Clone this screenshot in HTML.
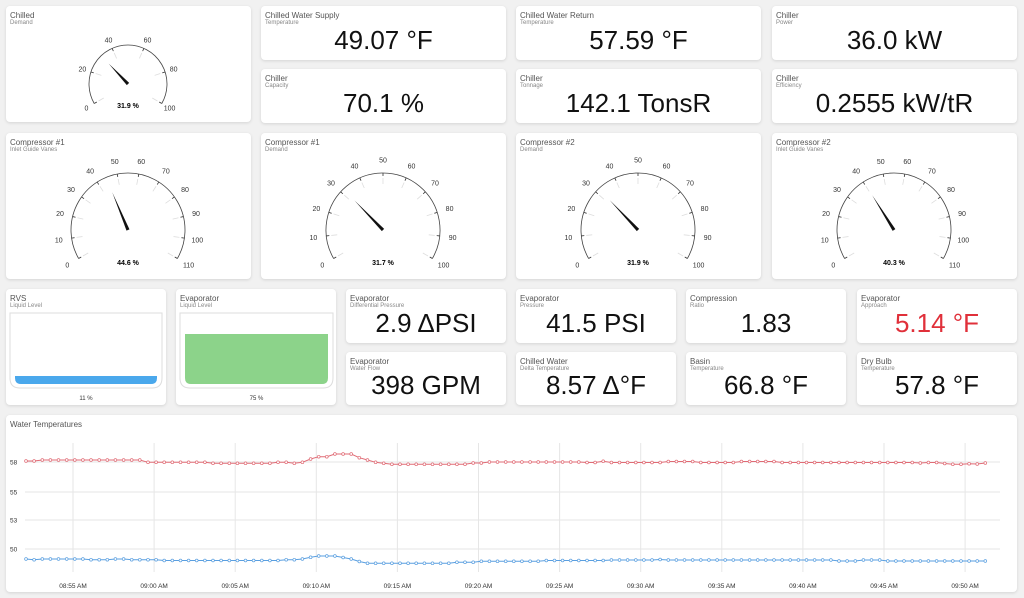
<!DOCTYPE html>
<html><head><meta charset="utf-8"><style>
*{box-sizing:border-box;margin:0;padding:0}
body{width:1024px;height:598px;background:#f1f1f1;font-family:"Liberation Sans",sans-serif;position:relative;overflow:hidden}
.c{position:absolute;background:#fff;border-radius:4px;box-shadow:0 1px 3px rgba(0,0,0,.12)}
.t{position:absolute;left:4px;top:5px;font-size:8px;color:#555;line-height:9px}
.s{position:absolute;left:4px;top:14px;font-size:6px;color:#888}
.v{position:absolute;left:0;right:0;bottom:5px;text-align:center;font-size:26px;color:#111;line-height:30px}
svg text{font-family:"Liberation Sans",sans-serif}
</style></head><body>
<div id="root"></div>
<script>
function card(x,y,w,h,t,s,v,col){return `<div class="c" style="left:${x}px;top:${y}px;width:${w}px;height:${h}px"><div class="t">${t}</div><div class="s">${s}</div>${v!==undefined?`<div class="v" style="${col?'color:'+col:''}">${v}</div>`:''}</div>`}
function gauge(cx,cy,r,max,step,val,lr){
 let s='';const a0=-120,a1=120;
 function pt(a,rr){const t=a*Math.PI/180;return [cx+rr*Math.sin(t),cy-rr*Math.cos(t)]}
 const p0=pt(a0,r),p1=pt(a1,r);
 s+=`<path d="M${p0[0]} ${p0[1]} A${r} ${r} 0 1 1 ${p1[0]} ${p1[1]}" fill="none" stroke="#444" stroke-width="0.8"/>`;
 for(let v=0;v<=max;v+=step){const a=a0+v/max*240;const q=pt(a,r),q2=pt(a,r-3),q3=pt(a,r-5),q4=pt(a,r-11),l=pt(a,r+lr);
  s+=`<line x1="${q[0]}" y1="${q[1]}" x2="${q2[0]}" y2="${q2[1]}" stroke="#333" stroke-width="0.8"/>`;
  s+=`<line x1="${q3[0]}" y1="${q3[1]}" x2="${q4[0]}" y2="${q4[1]}" stroke="#ddd" stroke-width="0.8"/>`;
  s+=`<text x="${l[0]}" y="${l[1]+2.5}" font-size="7" text-anchor="middle" fill="#333">${v}</text>`;}
 const a=a0+val/max*240,tp=pt(a,r*0.72),t=a*Math.PI/180,px=Math.cos(t)*1.6,py=Math.sin(t)*1.6;
 s+=`<polygon points="${tp[0]},${tp[1]} ${cx+px},${cy+py} ${cx-px},${cy-py}" fill="#111"/>`;
 return s;}
let h='';
const X=[6,261,516,772],W=245;
h+=card(6,6,W,116,'Chilled','Demand');
h+=card(261,6,W,54,'Chilled Water Supply','Temperature','49.07 °F');
h+=card(516,6,W,54,'Chilled Water Return','Temperature','57.59 °F');
h+=card(772,6,W,54,'Chiller','Power','36.0 kW');
h+=card(261,69,W,54,'Chiller','Capacity','70.1 %');
h+=card(516,69,W,54,'Chiller','Tonnage','142.1 TonsR');
h+=card(772,69,W,54,'Chiller','Efficiency','0.2555 kW/tR');
const gt=[['Compressor #1','Inlet Guide Vanes'],['Compressor #1','Demand'],['Compressor #2','Demand'],['Compressor #2','Inlet Guide Vanes']];
for(let i=0;i<4;i++)h+=card(X[i],133,W,146,gt[i][0],gt[i][1]);
h+=card(6,289,160,116,'RVS','Liquid Level');
h+=card(176,289,160,116,'Evaporator','Liquid Level');
const sm=[[346,'Evaporator','Differential Pressure','2.9 ΔPSI'],[516,'Evaporator','Pressure','41.5 PSI'],[686,'Compression','Ratio','1.83'],[857,'Evaporator','Approach','5.14 °F','#e0303a']];
sm.forEach(a=>h+=card(a[0],289,160,54,a[1],a[2],a[3],a[4]));
const sm2=[[346,'Evaporator','Water Flow','398 GPM'],[516,'Chilled Water','Delta Temperature','8.57 Δ°F'],[686,'Basin','Temperature','66.8 °F'],[857,'Dry Bulb','Temperature','57.8 °F']];
sm2.forEach(a=>h+=card(a[0],352,160,53,a[1],a[2],a[3]));
h+=card(6,415,1011,177,'Water Temperatures','');
// SVG overlay
let s='<svg width="1024" height="598" style="position:absolute;left:0;top:0">';
s+=gauge(128,84,39,100,20,31.9,9);
s+=`<text x="128" y="108" font-size="7" font-weight="bold" text-anchor="middle">31.9 %</text>`;
const G=[[110,10,44.6],[100,10,31.7],[100,10,31.9],[110,10,40.3]];
for(let i=0;i<4;i++){const cx=X[i]+122;s+=gauge(cx,230,57,G[i][0],G[i][1],G[i][2],13);
 s+=`<text x="${cx}" y="265" font-size="7" font-weight="bold" text-anchor="middle">${G[i][2]} %</text>`;}
// tanks
function tank(x,y,w,hh,fy,col,lab){let r=`<path d="M${x} ${y} V${y+hh-10} Q${x} ${y+hh} ${x+10} ${y+hh} H${x+w-10} Q${x+w} ${y+hh} ${x+w} ${y+hh-10} V${y}Z" fill="#fff" stroke="#ddd" stroke-width="1"/>`;
 const ix=x+5,iw=w-10,by=y+hh-4;r+=`<path d="M${ix} ${fy} V${by-6} Q${ix} ${by} ${ix+6} ${by} H${ix+iw-6} Q${ix+iw} ${by} ${ix+iw} ${by-6} V${fy}Z" fill="${col}"/>`;
 r+=`<text x="${x+w/2}" y="400" font-size="6" text-anchor="middle" fill="#333">${lab}</text>`;return r;}
s+=tank(10,313,152,75,376,'#4aa8ec','11 %');
s+=tank(180,313,153,75,334,'#8cd38a','75 %');
// chart
const gl=[[462,'58'],[492,'55'],[520,'53'],[549,'50']];
gl.forEach(g=>{s+=`<line x1="25" y1="${g[0]}" x2="1000" y2="${g[0]}" stroke="#e6e6e6"/><text x="10" y="${g[0]+2.5}" font-size="6.5" fill="#333">${g[1]}</text>`});
const tl=['08:55','09:00','09:05','09:10','09:15','09:20','09:25','09:30','09:35','09:40','09:45','09:50'];
tl.forEach((t,i)=>{const x=73+i*81.1;s+=`<line x1="${x}" y1="443" x2="${x}" y2="572" stroke="#e6e6e6"/><text x="${x}" y="588" font-size="6.5" text-anchor="middle" fill="#333">${t} AM</text>`});
function series(keys,n){const a=[];for(let i=0;i<n;i++){let v=keys[0][1];for(const k of keys)if(i>=k[0])v=k[1];a.push(v)}return a}
const n=119;
const red=series([[0,461],[2,460],[15,462.3],[23,463.3],[31,462.3],[33,463.3],[34,462.3],[35,459],[36,456.7],[38,454],[41,457.7],[42,460],[43,462.3],[44,463.3],[45,464.3],[55,463],[57,462],[66,462],[69,462.5],[79,461.5],[83,462.5],[88,461.5],[93,462.5],[113,463.5],[114,464.3],[116,463.7],[117,464],[118,463]],n);
red[71]=461.3;red[74]=462.5;red[110]=463;
const blue=series([[0,559],[1,559.7],[2,559],[8,559.7],[11,559],[13,559.7],[17,560.5],[32,559.7],[34,559],[35,557.3],[36,556],[39,557.5],[40,559],[41,561.5],[42,563.3],[53,562.3],[56,561.3],[64,560.5],[72,560],[78,559.5],[79,560],[100,561],[103,560],[106,561],[118,561]],n);
function draw(a,col){let p=a.map((y,i)=>`${(26+i*8.13).toFixed(1)},${y}`).join(' ');let r=`<polyline points="${p}" fill="none" stroke="${col}" stroke-width="1"/>`;
 a.forEach((y,i)=>r+=`<circle cx="${(26+i*8.13).toFixed(1)}" cy="${y}" r="1.4" fill="#fff" stroke="${col}" stroke-width="0.7"/>`);return r}
s+=draw(red,'#e06b75');s+=draw(blue,'#5a9fe0');
s+='</svg>';
document.getElementById('root').innerHTML=h+s;
</script>
</body></html>
